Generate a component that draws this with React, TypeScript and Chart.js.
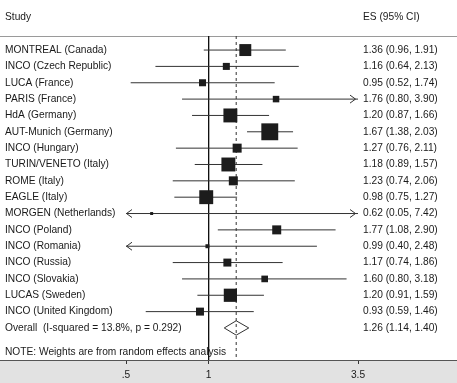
import React, { useEffect, useRef } from 'react';
import { Chart, registerables } from 'chart.js';

Chart.register(...registerables);

const studies = [
  'MONTREAL (Canada)',
  'INCO (Czech Republic)',
  'LUCA (France)',
  'PARIS (France)',
  'HdA (Germany)',
  'AUT-Munich (Germany)',
  'INCO (Hungary)',
  'TURIN/VENETO (Italy)',
  'ROME (Italy)',
  'EAGLE (Italy)',
  'MORGEN (Netherlands)',
  'INCO (Poland)',
  'INCO (Romania)',
  'INCO (Russia)',
  'INCO (Slovakia)',
  'LUCAS (Sweden)',
  'INCO (United Kingdom)',
];
const es = [1.36, 1.16, 0.95, 1.76, 1.2, 1.67, 1.27, 1.18, 1.23, 0.98, 0.62, 1.77, 0.99, 1.17, 1.6, 1.2, 0.93];
const lo = [0.96, 0.64, 0.52, 0.8, 0.87, 1.38, 0.76, 0.89, 0.74, 0.75, 0.05, 1.08, 0.4, 0.74, 0.8, 0.91, 0.59];
const hi = [1.91, 2.13, 1.74, 3.9, 1.66, 2.03, 2.11, 1.57, 2.06, 1.27, 7.42, 2.9, 2.48, 1.86, 3.18, 1.59, 1.46];
// approximate study weights (%), read from square sizes
const weights = [8.1, 2.8, 2.8, 2.4, 11.0, 16.2, 4.6, 11.0, 4.6, 11.0, 0.5, 4.6, 0.9, 3.6, 2.5, 9.9, 3.6];

const overallLabel = 'Overall  (I-squared = 13.8%, p = 0.292)';
const overallEs = 1.26;
const overallLo = 1.14;
const overallHi = 1.4;
const noteText = 'NOTE: Weights are from random effects analysis';
const headerStudy = 'Study';
const headerEs = 'ES (95% CI)';

const xTicks = [0.5, 1, 3.5];
const xTickLabels = ['.5', '1', '3.5'];

const FONT_FAMILY = '"Liberation Sans", Arial, Helvetica, sans-serif';
const FONT_SIZE = 10.2;
const TEXT_COLOR = '#1a1a1a';
const LINE_COLOR = '#333333';
const BOX_COLOR = '#1c1c1c';

const fmt = (v: number) => v.toFixed(2);

const overallRow = studies.length;
const noteRow = studies.length + 1.5;

const decorPlugin = {
  id: 'forestDecor',
  beforeDraw(chart: any) {
    const { ctx, width, height, chartArea } = chart;
    ctx.save();
    ctx.fillStyle = '#ffffff';
    ctx.fillRect(0, 0, width, height);
    ctx.fillStyle = '#e2e2e2';
    ctx.fillRect(0, chartArea.bottom, width, height - chartArea.bottom);
    ctx.strokeStyle = '#9a9a9a';
    ctx.lineWidth = 1;
    ctx.beginPath();
    ctx.moveTo(0, Math.round(chartArea.top) + 0.5);
    ctx.lineTo(width, Math.round(chartArea.top) + 0.5);
    ctx.stroke();
    ctx.strokeStyle = '#555555';
    ctx.beginPath();
    ctx.moveTo(0, Math.round(chartArea.bottom) + 0.5);
    ctx.lineTo(width, Math.round(chartArea.bottom) + 0.5);
    ctx.stroke();
    ctx.restore();
  },
  afterDatasetsDraw(chart: any) {
    const { ctx } = chart;
    const xs = chart.scales.x;
    const ys = chart.scales.y;
    ctx.save();
    ctx.strokeStyle = LINE_COLOR;
    ctx.lineWidth = 1;
    studies.forEach((_, i) => {
      const y = ys.getPixelForValue(i);
      if (lo[i] < xs.min) {
        const x = xs.getPixelForValue(xs.min);
        ctx.beginPath();
        ctx.moveTo(x + 6, y - 4);
        ctx.lineTo(x + 0.5, y);
        ctx.lineTo(x + 6, y + 4);
        ctx.stroke();
      }
      if (hi[i] > xs.max) {
        const x = xs.getPixelForValue(xs.max) - 2;
        ctx.beginPath();
        ctx.moveTo(x - 6, y - 4);
        ctx.lineTo(x - 0.5, y);
        ctx.lineTo(x - 6, y + 4);
        ctx.stroke();
      }
    });
    ctx.restore();
  },
  afterDraw(chart: any) {
    const { ctx, chartArea } = chart;
    const ys = chart.scales.y;
    const esX = chartArea.right + 5;
    ctx.save();
    ctx.fillStyle = TEXT_COLOR;
    ctx.font = `${FONT_SIZE}px ${FONT_FAMILY}`;
    ctx.textBaseline = 'middle';
    ctx.textAlign = 'left';
    ctx.fillText(headerStudy, 5, 17);
    ctx.fillText(headerEs, esX, 17);
    studies.forEach((s, i) => {
      const y = ys.getPixelForValue(i);
      ctx.fillText(s, 5, y);
      ctx.fillText(`${fmt(es[i])} (${fmt(lo[i])}, ${fmt(hi[i])})`, esX, y);
    });
    const oy = ys.getPixelForValue(overallRow);
    ctx.fillText(overallLabel, 5, oy);
    ctx.fillText(`${fmt(overallEs)} (${fmt(overallLo)}, ${fmt(overallHi)})`, esX, oy);
    ctx.fillText(noteText, 5, ys.getPixelForValue(noteRow));
    ctx.restore();
  },
};

export default function App() {
  const ref = useRef<HTMLCanvasElement | null>(null);

  useEffect(() => {
    if (!ref.current) return;
    const yMin = -0.86;
    const yMax = 18.96;

    const ciSets = studies.map((_, i) => ({
      type: 'line' as const,
      data: [
        { x: lo[i], y: i },
        { x: hi[i], y: i },
      ],
      borderColor: LINE_COLOR,
      borderWidth: 1,
      pointRadius: 0,
      showLine: true,
      order: 2,
    }));

    const totalW = weights.reduce((a, b) => a + b, 0);
    const boxScale = 42;

    const chart = new Chart(ref.current, {
      type: 'scatter',
      data: {
        datasets: [
          {
            type: 'scatter',
            data: es.map((v, i) => ({ x: v, y: i })),
            pointStyle: 'rect',
            pointRadius: weights.map((w) => Math.max(1.6, (Math.sqrt(w / totalW) * boxScale) / Math.SQRT2)),
            backgroundColor: BOX_COLOR,
            borderWidth: 0,
            order: 0,
          } as any,
          {
            type: 'line',
            data: [
              { x: overallLo, y: overallRow },
              { x: overallEs, y: overallRow - 0.44 },
              { x: overallHi, y: overallRow },
              { x: overallEs, y: overallRow + 0.44 },
              { x: overallLo, y: overallRow },
            ],
            borderColor: LINE_COLOR,
            backgroundColor: '#ffffff',
            fill: true,
            borderWidth: 1,
            pointRadius: 0,
            showLine: true,
            tension: 0,
            order: 0,
          } as any,
          ...ciSets,
          {
            type: 'line',
            data: [
              { x: 1, y: yMin },
              { x: 1, y: yMax },
            ],
            borderColor: '#111111',
            borderWidth: 1,
            pointRadius: 0,
            showLine: true,
            order: 3,
          } as any,
          {
            type: 'line',
            data: [
              { x: overallEs, y: yMin },
              { x: overallEs, y: yMax },
            ],
            borderColor: '#333333',
            borderWidth: 1,
            borderDash: [3, 3],
            pointRadius: 0,
            showLine: true,
            order: 3,
          } as any,
        ],
      },
      options: {
        animation: false,
        responsive: true,
        maintainAspectRatio: false,
        devicePixelRatio: 1,
        events: [],
        layout: { padding: { left: 126, right: 99, top: 36, bottom: 0 } },
        plugins: {
          legend: { display: false },
          tooltip: { enabled: false },
          title: { display: false },
        },
        scales: {
          x: {
            type: 'logarithmic',
            min: 0.5,
            max: 3.5,
            afterBuildTicks: (scale: any) => {
              scale.ticks = xTicks.map((v) => ({ value: v }));
            },
            afterFit: (scale: any) => {
              scale.height = 23;
            },
            ticks: {
              autoSkip: false,
              maxRotation: 0,
              padding: 5,
              color: TEXT_COLOR,
              font: { family: FONT_FAMILY, size: FONT_SIZE },
              callback: (_v: any, idx: number) => xTickLabels[idx],
            },
            grid: {
              drawOnChartArea: false,
              drawTicks: true,
              tickLength: 4,
              color: '#333333',
            },
            border: { display: true, color: '#555555', width: 1 },
          },
          y: {
            type: 'linear',
            display: false,
            reverse: true,
            min: yMin,
            max: yMax,
          },
        },
      } as any,
      plugins: [decorPlugin],
    });

    return () => chart.destroy();
  }, []);

  return (
    <div style={{ position: 'absolute', left: 0, top: 0, width: 457, height: 383 }}>
      <canvas ref={ref} />
    </div>
  );
}
